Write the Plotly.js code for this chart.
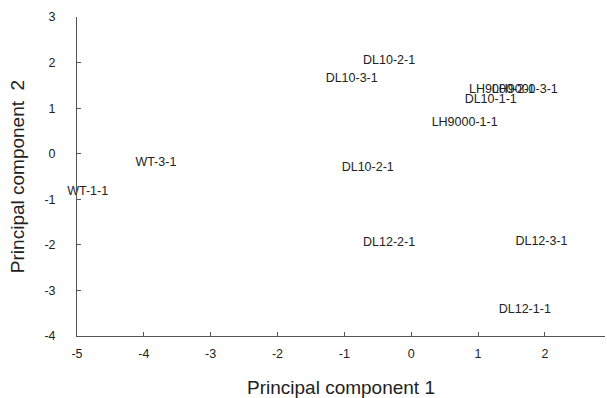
<!DOCTYPE html>
<html>
<head>
<meta charset="utf-8">
<script src="https://cdn.plot.ly/plotly-3.0.1.min.js"></script>
<style>html,body{margin:0;padding:0;background:#fff;}#chart{width:607px;height:398px;}</style>
</head>
<body>
<div id="chart"></div>
<script>
const sampleNames = ["DL10-2-1","DL10-3-1","LH9000-2-1","LH9000-3-1","DL10-1-1","LH9000-1-1","DL10-2-1","WT-3-1","WT-1-1","DL12-2-1","DL12-3-1","DL12-1-1"];
const pc1 = [-0.33,-0.89,1.36,1.70,1.19,0.80,-0.65,-3.82,-4.84,-0.33,1.95,1.70];
const pc2 = [2.03,1.64,1.40,1.40,1.18,0.67,-0.31,-0.20,-0.84,-1.96,-1.94,-3.43];
const xTicks = [-5,-4,-3,-2,-1,0,1,2];
const yTicks = [-4,-3,-2,-1,0,1,2,3];

const trace = {
  x: pc1, y: pc2, text: sampleNames,
  mode: 'text', type: 'scatter', textposition: 'middle center',
  textfont: {family: 'Liberation Sans, Arial, sans-serif', size: 12.5, color: '#222'},
  cliponaxis: false, hoverinfo: 'none'
};
const axisCommon = {
  showgrid: false, zeroline: false, showline: true, linecolor: '#555', linewidth: 1,
  ticks: 'inside', ticklen: 4, tickcolor: '#555', mirror: false,
  tickfont: {family: 'Liberation Sans, Arial, sans-serif', size: 12.5, color: '#222'}
};
const layout = {
  width: 607, height: 398,
  margin: {l: 77, r: 2, t: 17, b: 62},
  paper_bgcolor: '#fff', plot_bgcolor: '#fff',
  showlegend: false,
  xaxis: Object.assign({}, axisCommon, {
    range: [-5, 2.9], tickvals: xTicks, ticktext: xTicks.map(String),
    ticklabelstandoff: 6,
    title: {text: 'Principal component 1', font: {family: 'Liberation Sans, Arial, sans-serif', size: 19, color: '#222'}, standoff: 21}
  }),
  yaxis: Object.assign({}, axisCommon, {
    range: [-4, 3], tickvals: yTicks, ticktext: yTicks.map(String),
    ticklabelstandoff: 18,
    title: {text: 'Principal component  2', font: {family: 'Liberation Sans, Arial, sans-serif', size: 19, color: '#222'}, standoff: 14}
  })
};
Plotly.newPlot('chart', [trace], layout, {staticPlot: true, displayModeBar: false});
</script>
</body>
</html>
